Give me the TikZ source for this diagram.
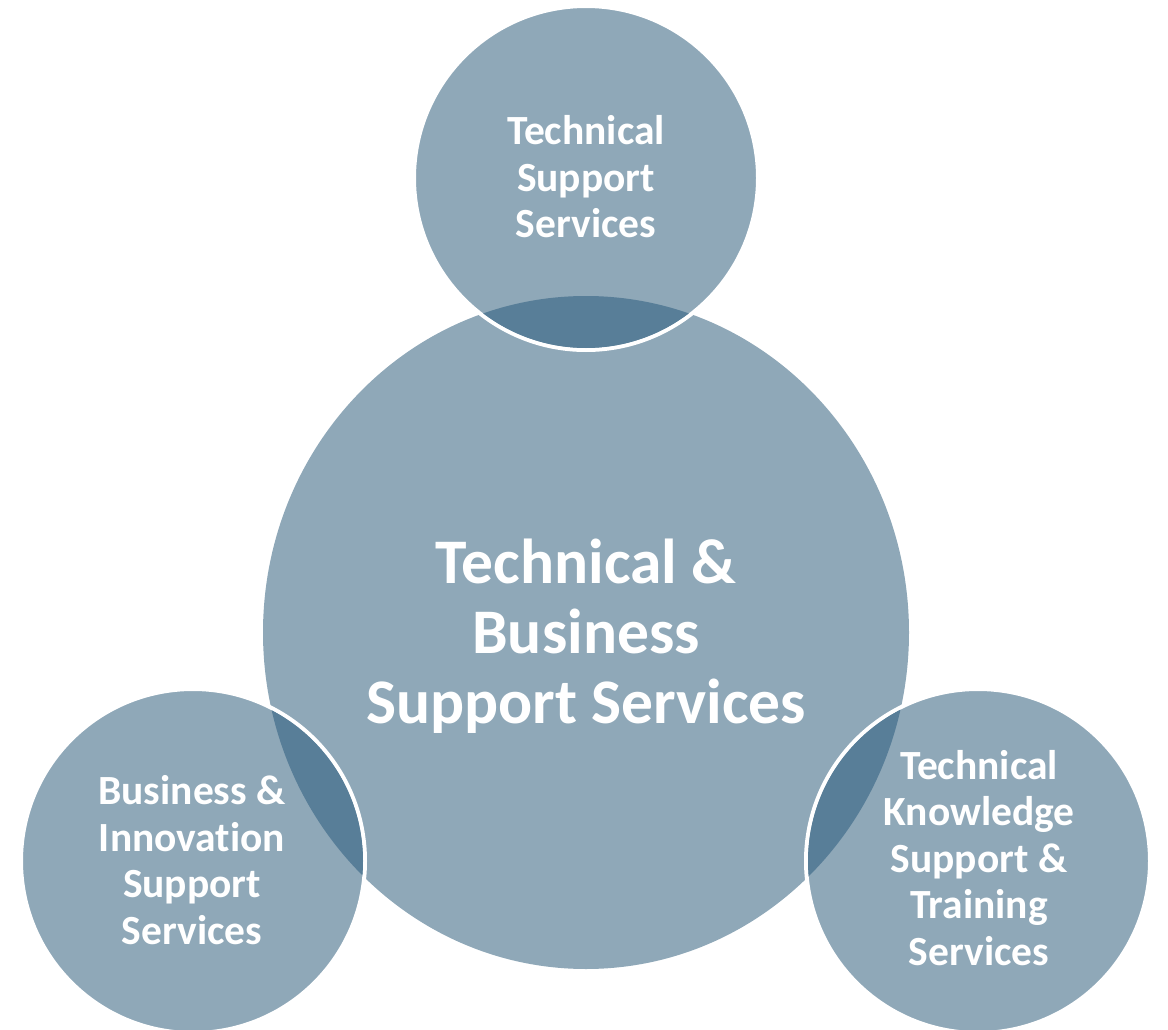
\documentclass[tikz,border=0pt]{standalone}
\usepackage{fontspec}
\setmainfont{Carlito}[Ligatures={NoCommon}]
\definecolor{lightc}{HTML}{8FA8B8}
\definecolor{darkc}{HTML}{587E98}
\begin{document}
\begin{tikzpicture}[x=1pt,y=-1pt,
  small/.style={fill=lightc,draw=white,line width=4pt},
  smalltxt/.style={text=white,font=\fontsize{41.5}{46.5}\selectfont\bfseries,align=center},
  bigtxt/.style={text=white,font=\fontsize{63.5}{70}\selectfont\bfseries,align=center}]
\useasboundingbox (0,0) rectangle (1168,1030);
% big circle
\fill[lightc] (586,632.5) ellipse [x radius=323pt, y radius=336.5pt];
% small circles
\path[small] (586,178) circle [radius=172pt];
\path[small] (193,861) circle [radius=172pt];
\path[small] (978,861) circle [radius=172pt];
% lenses
\begin{scope}
\clip (586,632.5) ellipse [x radius=323pt, y radius=336.5pt];
\fill[darkc] (586,178) circle [radius=170pt];
\fill[darkc] (193,861) circle [radius=170pt];
\fill[darkc] (978,861) circle [radius=170pt];
\end{scope}
% texts
\node[bigtxt] (center) at (586,636) {Technical \&\\Business\\Support Services};
\node[smalltxt] (top) at (586,177) {Technical\\Support\\Services};
\node[smalltxt] (left) at (192,860) {Business \&\\Innovation\\Support\\Services};
\node[smalltxt] (right) at (979,858) {Technical\\Knowledge\\Support \&\\Training\\Services};
\end{tikzpicture}
\end{document}
